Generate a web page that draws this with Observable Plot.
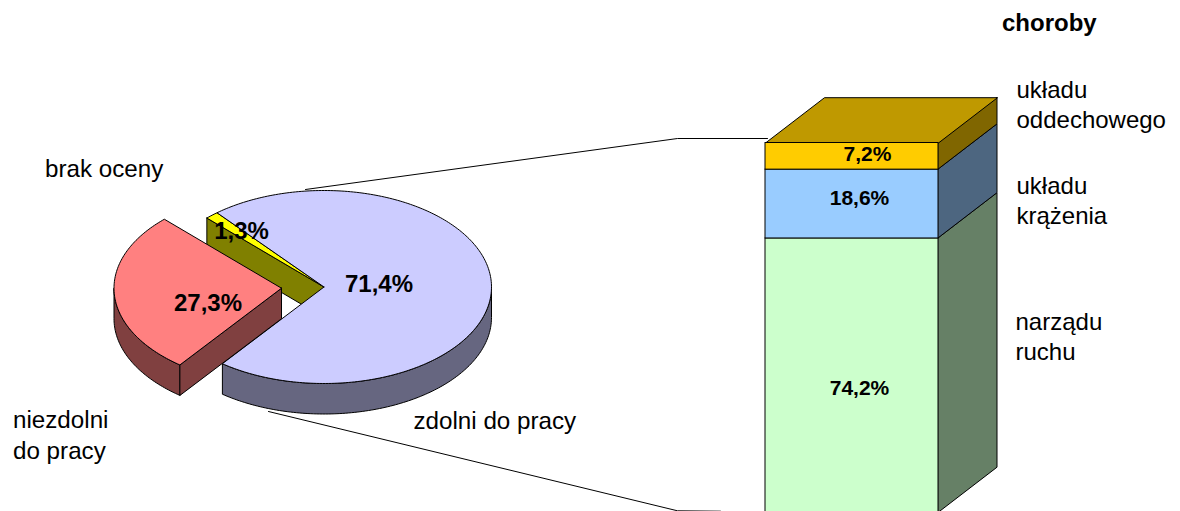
<!DOCTYPE html>
<html lang="pl">
<head>
<meta charset="utf-8">
<script src="https://cdn.jsdelivr.net/npm/d3@7"></script>
<script src="https://cdn.jsdelivr.net/npm/@observablehq/plot@0.6"></script>
<style>
html,body{margin:0;padding:0;background:#fff;overflow:hidden}
#chart{position:relative;width:1180px;height:511px;overflow:hidden}
#chart svg{position:absolute;left:0;top:0}
</style>
</head>
<body>
<div id="chart"></div>
<script>
// Data
const pieCategories = ["zdolni do pracy", "niezdolni do pracy", "brak oceny"];
const pieShares = [71.4, 27.3, 1.3];
const diseaseCategories = ["narządu\nruchu", "układu\nkrążenia", "układu\noddechowego"];
const diseaseShares = [74.2, 18.6, 7.2];
const barTitle = "choroby";

// Styles
const FONT = "'Liberation Sans', Arial, sans-serif";
const pieTop = ["#ccccff", "#ff8080", "#ffff00"];
const pieSide = ["#666680", "#804040", "#808000"];
const barFront = ["#ccffcc", "#99ccff", "#ffcc00"];
const barSide = ["#668066", "#4d6680", "#806600"];
const barRoof = "#bf9900";

const W = 1180, H = 511;
const pct = v => v.toFixed(1).replace(".", ",") + "%";

// ---------- Pie layer: x,y are in ellipse radii ----------
const cx = 323.5, cy = 286.5, rx = 167.5, ry = 96.5;
const toX = px => (px - cx) / rx, toY = py => (cy - py) / ry;
const DEPTH = 30.5 / ry;               // extrusion height
const EXPLODE = {dx: -42.5 / rx, dy: -1.2 / ry}; // offset of the pulled-out slice
const START = -39.7;                   // first slice angle, clockwise from 12 o'clock

const ends = d3.cumsum(pieShares).map(v => START + v * 3.6);
const angle = [START, ...ends];
const rad = a => a * Math.PI / 180;
const on = (t, o = {dx: 0, dy: 0}, drop = 0) =>
  ({x: Math.sin(rad(t)) + o.dx, y: Math.cos(rad(t)) + o.dy - drop});
const arc = (a, b, o, drop) => {
  const n = Math.max(2, Math.ceil(Math.abs(b - a)));
  return d3.range(n + 1).map(i => on(a + (b - a) * i / n, o, drop));
};
const closed = pts => [...pts, pts[0]];
const sector = (a, b, o = {dx: 0, dy: 0}) =>
  closed([{x: o.dx, y: o.dy}, ...arc(a, b, o)]);
const band = (a, b, o) => closed([...arc(a, b, o), ...arc(a, b, o, DEPTH).reverse()]);
const poly = (pts, fill, stroke = "#000") =>
  Plot.line(pts, {x: "x", y: "y", fill, stroke, strokeWidth: 1, curve: "linear",
                  strokeLinejoin: "miter", strokeMiterlimit: 10});

const [a0, a1, a2, a3] = angle;
const redTip = {x: EXPLODE.dx, y: EXPLODE.dy};
const redEdge = on(a1, EXPLODE);
const yellowEdge = on(a2);

const pieLabels = [
  {t: pct(pieShares[0]), px: 378.5, py: 284},
  {t: pct(pieShares[1]), px: 207.5, py: 303},
  {t: pct(pieShares[2]), px: 241, py: 231}
];
const catLabels = [
  {t: pieCategories[0], px: 413, py: 419},
  {t: pieCategories[1].replace("niezdolni ", "niezdolni\n"), px: 12.5, py: 433.5},
  {t: pieCategories[2], px: 44.5, py: 167}
];

const piePlot = Plot.plot({
  width: W, height: H, margin: 0,
  style: {background: "transparent"},
  x: {axis: null, domain: [-1, 1], range: [cx - rx, cx + rx]},
  y: {axis: null, domain: [-1, 1], range: [cy + ry, cy - ry]},
  marks: [
    // connectors from the pie to the bar
    Plot.line([[305, 189], [677, 138], [767, 138]], {x: d => toX(d[0]), y: d => toY(d[1]), stroke: "#000", strokeWidth: 1, curve: "linear"}),
    Plot.line([[268, 411], [677, 510.3], [720, 510.7]], {x: d => toX(d[0]), y: d => toY(d[1]), stroke: "#000", strokeWidth: 1, curve: "linear"}),
    // inner wall and top of the small slice
    poly(closed([yellowEdge, {x: 0, y: 0}, {x: 0, y: -DEPTH}, {x: yellowEdge.x, y: yellowEdge.y - DEPTH}]), pieSide[2]),
    poly(sector(a2, a3), pieTop[2]),
    // large slice
    poly(band(90, a1), pieSide[0]),
    poly(sector(a0, a1), pieTop[0]),
    // pulled-out slice
    poly(band(a1, 270, EXPLODE), pieSide[1]),
    poly(closed([redTip, redEdge, {x: redEdge.x, y: redEdge.y - DEPTH}, {x: redTip.x, y: redTip.y - DEPTH}]), pieSide[1]),
    poly(sector(a1, a2, EXPLODE), pieTop[1]),
    // labels
    Plot.text(pieLabels, {x: d => toX(d.px), y: d => toY(d.py), text: "t", fontFamily: FONT, fontSize: 24, fontWeight: "bold", fill: "#000"}),
    Plot.text(catLabels, {x: d => toX(d.px), y: d => toY(d.py), text: "t", textAnchor: "start", lineHeight: 1.27, fontFamily: FONT, fontSize: 24.2, fill: "#000"})
  ]
});

// ---------- Bar layer: y is the percentage, x runs across the front face ----------
const bx0 = 765, bx1 = 938;
const DX = 59 / (bx1 - bx0);           // depth in x units
const yPx = 3.7;                       // px per percent
const DY = 45.3 / yPx;                 // depth in y units
const toBX = px => (px - bx0) / (bx1 - bx0);
const toBY = py => (512.5 - py) / yPx;

const rows = diseaseCategories.map((name, i) => ({name, share: diseaseShares[i]}));
const tops = d3.cumsum(diseaseShares);
const segs = rows.map((d, i) => ({...d, lo: i ? tops[i - 1] : 0, hi: tops[i]}));
const valueNudge = [-13, 6, 2];        // px nudges of the value labels (up)
const valueShift = [7.5, 7.5, 15.5];   // px nudges of the value labels (right)
const nameAt = [[1015, 335], [1016, 198.5], [1016, 102.5]]; // px position of the names

const barPlot = Plot.plot({
  width: W, height: H, margin: 0,
  style: {background: "transparent"},
  x: {axis: null, domain: [0, 1], range: [bx0, bx1]},
  y: {axis: null, domain: [0, 100], range: [512.5, 142.5]},
  color: {domain: diseaseCategories, range: barFront},
  marks: [
    ...segs.map((s, i) => Plot.area(
      [{x: 1, a: s.lo, b: s.hi}, {x: 1 + DX, a: s.lo + DY, b: s.hi + DY}],
      {x1: "x", y1: "a", y2: "b", fill: barSide[i], stroke: "#000", strokeWidth: 1, curve: "linear"})),
    poly(closed([{x: 0, y: 100}, {x: 1, y: 100}, {x: 1 + DX, y: 100 + DY}, {x: DX, y: 100 + DY}]), barRoof),
    Plot.rectY(rows, {x1: () => 0, x2: () => 1, y: "share", fill: "name", stroke: "#000", strokeWidth: 1}),
    Plot.text(segs, {
      x: (d, i) => 0.5 + valueShift[i] / (bx1 - bx0),
      y: (d, i) => (d.lo + d.hi) / 2 + valueNudge[i] / yPx,
      text: d => pct(d.share),
      fontFamily: FONT, fontSize: 21, fontWeight: "bold", fill: "#000"
    }),
    Plot.text(segs, {
      x: (d, i) => toBX(nameAt[i][0]), y: (d, i) => toBY(nameAt[i][1]), text: "name",
      textAnchor: "start", lineHeight: 1.25, fontFamily: FONT, fontSize: 24, fill: "#000"
    }),
    Plot.text([barTitle], {x: () => toBX(1001.5), y: () => toBY(23), text: d => d, textAnchor: "start", fontFamily: FONT, fontSize: 24, fontWeight: "bold", fill: "#000"})
  ]
});

document.getElementById("chart").append(piePlot, barPlot);
</script>
</body>
</html>
